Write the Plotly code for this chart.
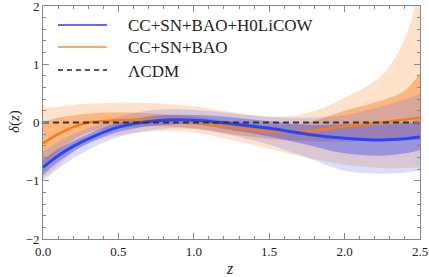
import plotly.graph_objects as go

# redshift grid
z = [0.0, 0.1, 0.2, 0.3, 0.5, 0.75, 1.0, 1.25, 1.5, 1.75, 2.0, 2.25, 2.4, 2.5]

# CC+SN+BAO+H0LiCOW (blue)
blue_mean = [-0.77, -0.57, -0.41, -0.28, -0.08, 0.03, 0.04, -0.02, -0.10, -0.20, -0.27, -0.30, -0.28, -0.25]
blue_1s_up = [-0.64, -0.46, -0.32, -0.20, 0.00, 0.12, 0.13, 0.09, 0.02, -0.04, -0.03, -0.03, -0.01, 0.00]
blue_1s_lo = [-0.90, -0.68, -0.50, -0.36, -0.16, -0.05, -0.03, -0.13, -0.24, -0.38, -0.53, -0.57, -0.53, -0.47]
blue_2s_up = [-0.50, -0.33, -0.20, -0.10, 0.10, 0.22, 0.22, 0.16, 0.10, 0.08, 0.13, 0.28, 0.40, 0.50]
blue_2s_lo = [-1.00, -0.80, -0.62, -0.47, -0.25, -0.12, -0.11, -0.22, -0.38, -0.60, -0.83, -0.88, -0.86, -0.82]

# CC+SN+BAO (orange)
orng_mean = [-0.36, -0.20, -0.08, 0.00, 0.04, 0.05, 0.00, -0.08, -0.15, -0.15, -0.07, 0.00, 0.05, 0.08]
orng_1s_up = [0.00, 0.08, 0.12, 0.15, 0.17, 0.15, 0.10, 0.02, -0.04, 0.00, 0.20, 0.38, 0.55, 0.85]
orng_1s_lo = [-0.72, -0.50, -0.30, -0.17, -0.10, -0.06, -0.10, -0.20, -0.28, -0.32, -0.33, -0.30, -0.30, -0.30]
orng_2s_up = [0.25, 0.27, 0.30, 0.32, 0.34, 0.33, 0.28, 0.18, 0.10, 0.16, 0.42, 0.82, 1.45, 2.35]
orng_2s_lo = [-0.95, -0.75, -0.50, -0.35, -0.22, -0.15, -0.17, -0.30, -0.45, -0.60, -0.72, -0.78, -0.78, -0.77]

lcdm_z = [0.0, 2.5]
lcdm_d = [0.0, 0.0]

legend_labels = ["CC+SN+BAO+H0LiCOW", "CC+SN+BAO", "\u039bCDM"]

serif = "Liberation Serif, Times New Roman, serif"

# plot-area geometry (pixels)
W, H = 429, 277
L, R, T, B = 43, 9, 6, 38
PW, PH = W - L - R, H - T - B

def px_x(p):
    return (p - L) / PW

def px_y(p):
    return 1 - (p - T) / PH

fig = go.Figure()

def band(lo, up, color):
    fig.add_trace(go.Scatter(x=z, y=lo, mode="lines", line=dict(width=0, shape="spline"),
                             showlegend=False, hoverinfo="skip"))
    fig.add_trace(go.Scatter(x=z, y=up, mode="lines", line=dict(width=0, shape="spline"),
                             fill="tonexty", fillcolor=color, showlegend=False, hoverinfo="skip"))

band(orng_2s_lo, orng_2s_up, "rgba(252,190,140,0.45)")
band(orng_1s_lo, orng_1s_up, "rgba(250,140,50,0.50)")
band(blue_2s_lo, blue_2s_up, "rgba(110,120,240,0.25)")
band(blue_1s_lo, blue_1s_up, "rgba(60,70,230,0.40)")

fig.add_trace(go.Scatter(x=z, y=orng_mean, mode="lines", showlegend=False,
                         line=dict(color="rgb(245,125,25)", width=2.5, shape="spline")))
fig.add_trace(go.Scatter(x=z, y=blue_mean, mode="lines", showlegend=False,
                         line=dict(color="rgb(40,70,245)", width=3, shape="spline")))
fig.add_trace(go.Scatter(x=lcdm_z, y=lcdm_d, mode="lines", showlegend=False,
                         line=dict(color="#333333", width=2, dash="6px,4px")))

axis_common = dict(
    showgrid=False, zeroline=False, showline=True, linecolor="#888888", linewidth=1,
    mirror="ticks", ticks="inside", ticklen=6, tickcolor="#888888", automargin=False,
    ticklabeloverflow="allow",
    tickfont=dict(family=serif, size=13, color="#222222"),
)

fig.update_xaxes(range=[0, 2.5], tickvals=[0, 0.5, 1.0, 1.5, 2.0, 2.5],
                 ticktext=["0.0", "0.5", "1.0", "1.5", "2.0", "2.5"],
                 minor=dict(dtick=0.1, ticks="inside", ticklen=3, tickcolor="#888888"),
                 **axis_common)
fig.update_yaxes(range=[-2, 2], tickvals=[-2, -1, 0, 1, 2],
                 ticktext=["\u22122", "\u22121", "0", "1", "2"],
                 minor=dict(dtick=0.2, ticks="inside", ticklen=3, tickcolor="#888888"),
                 **axis_common)

# manual legend
leg_rows = [25, 47, 70]
leg_styles = [dict(color="rgb(95,110,240)", width=2),
              dict(color="rgb(250,170,110)", width=2),
              dict(color="#222222", width=1.3, dash="5px,4px")]
shapes = []
annotations = []
for row, lab, st in zip(leg_rows, legend_labels, leg_styles):
    shapes.append(dict(type="line", xref="paper", yref="paper",
                       x0=px_x(58), x1=px_x(107), y0=px_y(row), y1=px_y(row), line=st))
    annotations.append(dict(text=lab, xref="paper", yref="paper", x=px_x(126), y=px_y(row + 1),
                            xanchor="left", yanchor="middle", showarrow=False,
                            font=dict(family=serif, size=17, color="#222222")))

# axis titles
annotations.append(dict(text="<i>z</i>", xref="paper", yref="paper", x=px_x(230), y=px_y(268),
                        xanchor="center", yanchor="middle", showarrow=False,
                        font=dict(family=serif, size=16, color="#222222")))
annotations.append(dict(text="<i>\u03b4</i>(<i>z</i>)", xref="paper", yref="paper", x=px_x(14), y=px_y(122),
                        xanchor="center", yanchor="middle", showarrow=False, textangle=-90,
                        font=dict(family=serif, size=15, color="#222222")))

fig.update_layout(
    width=W, height=H,
    margin=dict(l=L, r=R, t=T, b=B),
    paper_bgcolor="white", plot_bgcolor="white",
    showlegend=False,
    shapes=shapes, annotations=annotations,
)

fig.write_html("out.html", config={"displayModeBar": False},
               post_script="document.body.style.margin='0';document.body.style.overflow='hidden';")
